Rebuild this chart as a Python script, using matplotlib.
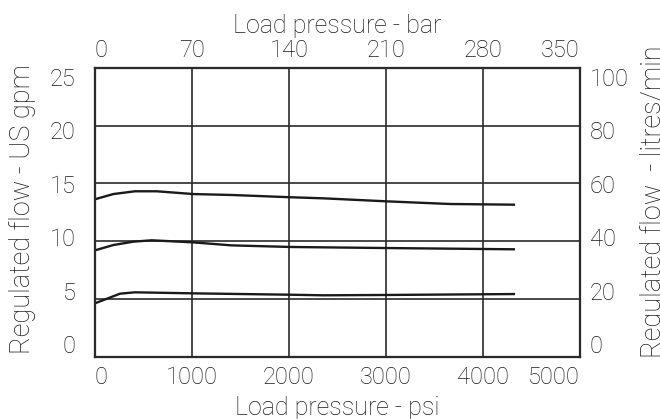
import matplotlib
matplotlib.use("Agg")
import matplotlib.pyplot as plt
from matplotlib.transforms import ScaledTranslation

plt.rcParams['font.family'] = ['Roboto', 'DejaVu Sans']
plt.rcParams['font.weight'] = 'light'
plt.rcParams['axes.labelweight'] = 'light'

# Data (psi, US gpm)
x_top = [0, 189, 412, 636, 1014, 1409, 2027, 2354, 3007, 3660, 4330]
y_top = [13.62, 14.07, 14.31, 14.31, 14.07, 13.99, 13.79, 13.70, 13.44, 13.21, 13.15]

x_mid = [0, 189, 395, 584, 1014, 1409, 2027, 3007, 4330]
y_mid = [9.20, 9.66, 9.95, 10.07, 9.89, 9.63, 9.49, 9.40, 9.29]

x_low = [0, 258, 412, 1014, 2027, 2354, 3007, 4330]
y_low = [4.62, 5.45, 5.57, 5.48, 5.36, 5.31, 5.34, 5.42]

psi_ticks = [0, 1000, 2000, 3000, 4000, 5000]
bar_labels = ['0', '70', '140', '210', '280', '350']
gpm_ticks = [0, 5, 10, 15, 20, 25]
lpm_labels = ['0', '20', '40', '60', '80', '100']

TXT = '#1a1a1a'
FS = 17
XFS = 18
YFS = 19.5
LINE = '#2a2a2a'

fig = plt.figure(figsize=(6.6, 4.19), dpi=100)
ax = fig.add_axes([0.1439, 0.1487, 0.8788 - 0.1439, 0.8384 - 0.1487])

for xs, ys in [(x_top, y_top), (x_mid, y_mid), (x_low, y_low)]:
    ax.plot(xs, ys, color='#1a1a1a', lw=1.7, solid_capstyle='butt')

ax.set_xlim(0, 5000)
ax.set_ylim(0, 25)
ax.set_xticks(psi_ticks)
ax.set_yticks(gpm_ticks)
ax.grid(True, color=LINE, lw=1.2)
ax.tick_params(length=0, labelsize=FS, colors=TXT)
ax.tick_params(axis='y', pad=14)
ax.tick_params(axis='x', pad=7)
for s in ax.spines.values():
    s.set_color(LINE)
    s.set_linewidth(1.5)
ax.set_xlabel('Load pressure - psi', fontsize=XFS, color=TXT)
ax.xaxis.set_label_coords(0.5, -0.136)
ax.set_ylabel('Regulated flow - US gpm', fontsize=YFS, color=TXT)
ax.yaxis.set_label_coords(-0.1216, 0.51)

axt = ax.twiny()
axt.set_xlim(ax.get_xlim())
axt.set_xticks(psi_ticks)
axt.set_xticklabels(bar_labels)
axt.tick_params(length=0, labelsize=FS, colors=TXT, pad=4)
axt.set_xlabel('Load pressure - bar', fontsize=XFS, color=TXT)
axt.xaxis.set_label_coords(0.5, 1.12)

axr = ax.twinx()
axr.set_ylim(ax.get_ylim())
axr.set_yticks(gpm_ticks)
axr.set_yticklabels(lpm_labels)
axr.tick_params(length=0, labelsize=FS, colors=TXT, pad=7)
axr.set_ylabel('Regulated flow  - litres/min', fontsize=YFS, color=TXT)
axr.yaxis.set_label_coords(1.1237, 0.535)
for a in (axt, axr):
    for s in a.spines.values():
        s.set_color(LINE)
        s.set_linewidth(1.5)

# first/last x tick labels aligned to the frame edges
for a in (ax, axt):
    ticks = a.xaxis.get_major_ticks()
    ticks[0].label1.set_horizontalalignment('left')
    ticks[0].label2.set_horizontalalignment('left')
    ticks[-1].label1.set_horizontalalignment('right')
    ticks[-1].label2.set_horizontalalignment('right')

# y tick labels sit in a slightly compressed band (px, downward positive)
y_off_px = [-12.7, -8.3, -3.9, 0.5, 4.9, 9.3]
for a in (ax, axr):
    for tk, off in zip(a.yaxis.get_major_ticks(), y_off_px):
        tr = ScaledTranslation(0, -off / 100.0, fig.dpi_scale_trans)
        tk.label1.set_transform(tk.label1.get_transform() + tr)
        tk.label2.set_transform(tk.label2.get_transform() + tr)

fig.savefig('out.png', dpi=100)
